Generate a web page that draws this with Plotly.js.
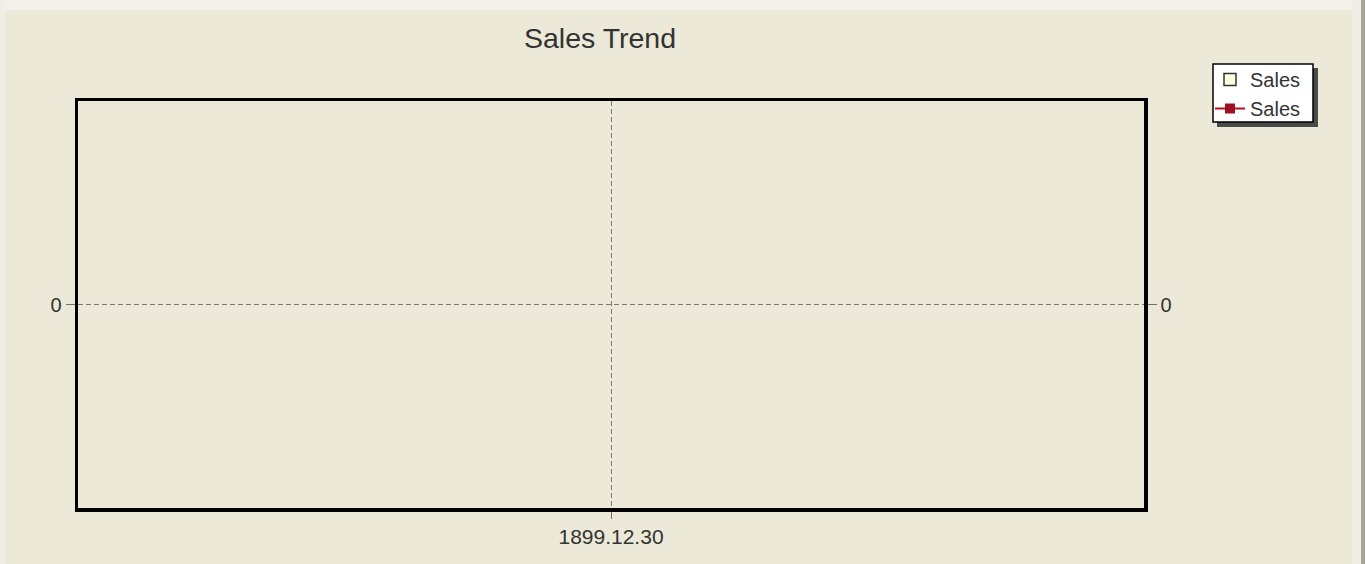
<!DOCTYPE html>
<html><head><meta charset="utf-8">
<script src="https://cdn.plot.ly/plotly-3.0.1.min.js"></script>
<style>html,body{margin:0;padding:0;background:#ECE9D8;}#chart{width:1365px;height:564px;}</style>
</head><body><div id="chart"></div>
<script>
const categories = ["1899.12.30"];
const barValues = [null];
const lineValues = [null];
const yTickVals = [0];
const yTickText = ["0"];
const seriesName = "Sales";

const W = 1365, H = 564;
const M = {l: 78, r: 221, t: 101, b: 56};
const plotW = W - M.l - M.r, plotH = H - M.t - M.b;
const px = x => (x - M.l) / plotW;
const py = y => (H - M.b - y) / plotH;

const font = "Liberation Sans, Arial, sans-serif";
const tickFont = {family: font, size: 20, color: "#333333"};
const traces = [
  {type: "bar", name: seriesName, x: categories, y: barValues,
   marker: {color: "#FFFFE0", line: {color: "#333333", width: 1.5}}, showlegend: true},
  {type: "scatter", mode: "lines+markers", name: seriesName, x: categories, y: lineValues, yaxis: "y2",
   line: {color: "#B01020", width: 2}, marker: {symbol: "square", color: "#A01020", size: 10}, showlegend: true}
];
const rect = (x0, y0, x1, y1, fill, line) => ({type: "rect", xref: "paper", yref: "paper", layer: "below",
  x0: px(x0), x1: px(x1), y0: py(y1), y1: py(y0), fillcolor: fill, line: line || {width: 0}});

const layout = {
  width: W, height: H,
  paper_bgcolor: "#ECE9D8", plot_bgcolor: "#ECE9D8",
  margin: M,
  title: {text: "Sales Trend", xref: "container", x: 600 / W, xanchor: "center",
          yref: "container", y: 1 - 38 / H, yanchor: "middle",
          font: {family: font, size: 28.5, color: "#333333"}},
  xaxis: {type: "category", tickvals: categories, showline: true, linecolor: "#000", linewidth: 3.5, mirror: true,
          showgrid: true, gridcolor: "#7A7A7A", griddash: "5px,3px", gridwidth: 1,
          ticks: "outside", ticklen: 7, tickcolor: "#707070", tickfont: {family: font, size: 21, color: "#333333"},
          ticklabelstandoff: 0, zeroline: false, fixedrange: true},
  yaxis: {range: [-1, 1], tickvals: yTickVals, ticktext: yTickText, showline: true, linecolor: "#000", linewidth: 3.5,
          showgrid: true, gridcolor: "#7A7A7A", griddash: "5px,3px", gridwidth: 1, zeroline: false,
          ticks: "outside", ticklen: 9, tickcolor: "#707070", tickfont: tickFont},
  yaxis2: {range: [-1, 1], tickvals: yTickVals, ticktext: yTickText, overlaying: "y", side: "right",
          showline: true, linecolor: "#000", linewidth: 3.5, showgrid: false, zeroline: false,
          ticks: "outside", ticklen: 9, tickcolor: "#707070", tickfont: tickFont},
  legend: {x: px(1210), y: py(60), xanchor: "left", yanchor: "top", bgcolor: "rgba(0,0,0,0)", borderwidth: 0,
           font: {family: font, size: 20, color: "#333333"}, tracegroupgap: 0, itemwidth: 30},
  shapes: [
    rect(0, 0, W, 10, "#F2F0E8"),
    rect(0, 0, 5, H, "#F0EEE5"),
    rect(1352, 0, 1361, H, "#EFEDE4"),
    rect(1361, 0, W, H, "#A6A59C"),
    rect(1217, 68, 1318, 127, "#4A4A4A"),
    rect(1213, 64, 1313, 122, "#FFFFFF", {color: "#000000", width: 1.5})
  ],
  showlegend: true
};
Plotly.newPlot("chart", traces, layout, {displayModeBar: false, staticPlot: true});
</script></body></html>
